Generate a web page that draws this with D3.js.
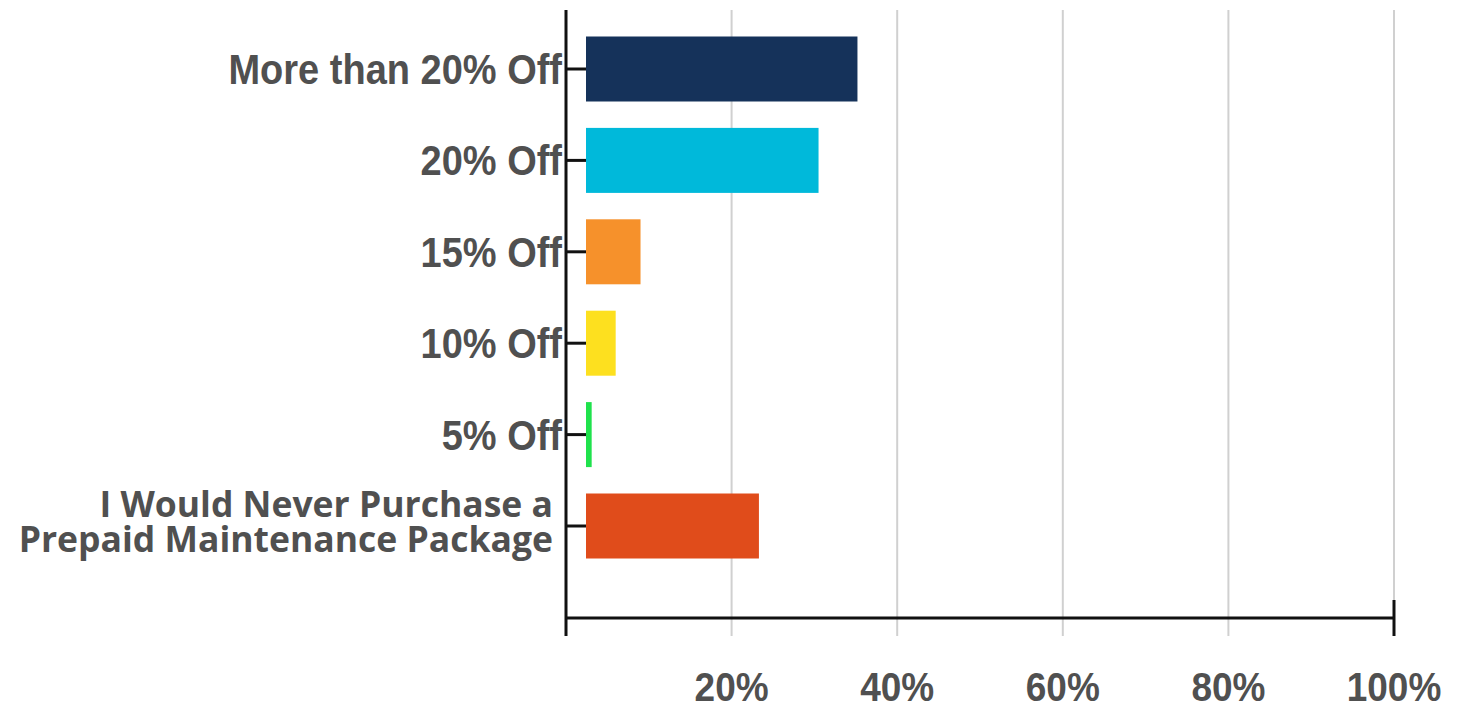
<!DOCTYPE html>
<html>
<head>
<meta charset="utf-8">
<script src="https://cdn.jsdelivr.net/npm/d3@7"></script>
<style>
  html, body { margin: 0; padding: 0; background: #fff; }
  svg { display: block; }
</style>
</head>
<body>
<svg id="chart" width="1464" height="704"></svg>
<script>
const categories = [
  ["More than 20% Off"],
  ["20% Off"],
  ["15% Off"],
  ["10% Off"],
  ["5% Off"],
  ["I Would Never Purchase a", "Prepaid Maintenance Package"]
];
const values = [35.2, 30.5, 9.0, 6.0, 3.1, 23.3];
const colors = ["#15325a", "#00b9da", "#f6912b", "#fde01f", "#1fe24c", "#e04c1b"];
const tickValues = [20, 40, 60, 80, 100];
const tickLabels = ["20%", "40%", "60%", "80%", "100%"];

(function () {
const svg = d3.select("#chart");
const x = d3.scaleLinear().domain([0, 100]).range([566, 1394]);
const y = d3.scalePoint().domain(d3.range(categories.length)).range([69, 526]);
const plotTop = 10, axisY = 618, plotBottom = 636, barH = 65, inset = 20;

// gridlines
svg.append("g").selectAll("line").data(tickValues).join("line")
  .attr("x1", d => x(d)).attr("x2", d => x(d))
  .attr("y1", plotTop).attr("y2", plotBottom)
  .attr("stroke", "#d0d0d0").attr("stroke-width", 2);

// bars
svg.append("g").selectAll("rect").data(values).join("rect")
  .attr("x", x(0) + inset)
  .attr("y", (d, i) => y(i) - barH / 2)
  .attr("width", d => Math.max(0, x(d) - x(0) - inset))
  .attr("height", barH)
  .attr("fill", (d, i) => colors[i]);

// y tick stubs
svg.append("g").selectAll("line").data(values).join("line")
  .attr("x1", x(0)).attr("x2", x(0) + inset)
  .attr("y1", (d, i) => y(i)).attr("y2", (d, i) => y(i))
  .attr("stroke", "#111").attr("stroke-width", 3);

// axes
svg.append("line").attr("x1", x(0)).attr("x2", x(0)).attr("y1", plotTop).attr("y2", plotBottom)
  .attr("stroke", "#111").attr("stroke-width", 3);
svg.append("line").attr("x1", x(0)).attr("x2", x(100)).attr("y1", axisY).attr("y2", axisY)
  .attr("stroke", "#111").attr("stroke-width", 3);
svg.append("line").attr("x1", x(100)).attr("x2", x(100)).attr("y1", 600).attr("y2", plotBottom)
  .attr("stroke", "#111").attr("stroke-width", 3);

// category labels
const labG = svg.append("g");
categories.forEach((lines, i) => {
  if (lines.length === 1) {
    labG.append("text")
      .attr("text-anchor", "end")
      .attr("fill", "#505050")
      .attr("font-family", "Liberation Sans, Arial, sans-serif")
      .attr("font-weight", "bold")
      .attr("font-size", 38)
      .attr("transform", `translate(562,${y(i) + 15}) scale(1,1.1)`)
      .text(lines[0]);
  } else {
    lines.forEach((l, k) => {
      labG.append("text")
        .attr("text-anchor", "end")
        .attr("fill", "#505050")
        .attr("font-family", "Open Sans, sans-serif")
        .attr("font-weight", "bold")
        .attr("font-size", 35.5)
        .attr("x", 553)
        .attr("y", y(i) - 9 + k * 35)
        .text(l);
    });
  }
});

// x tick labels
svg.append("g").selectAll("text").data(tickValues).join("text")
  .attr("text-anchor", "middle")
  .attr("fill", "#505050")
  .attr("font-family", "Liberation Sans, Arial, sans-serif")
  .attr("font-weight", "bold")
  .attr("font-size", 37)
  .attr("transform", d => `translate(${x(d)},701) scale(1,1.1)`)
  .text((d, i) => tickLabels[i]);
})();
</script>
</body>
</html>
